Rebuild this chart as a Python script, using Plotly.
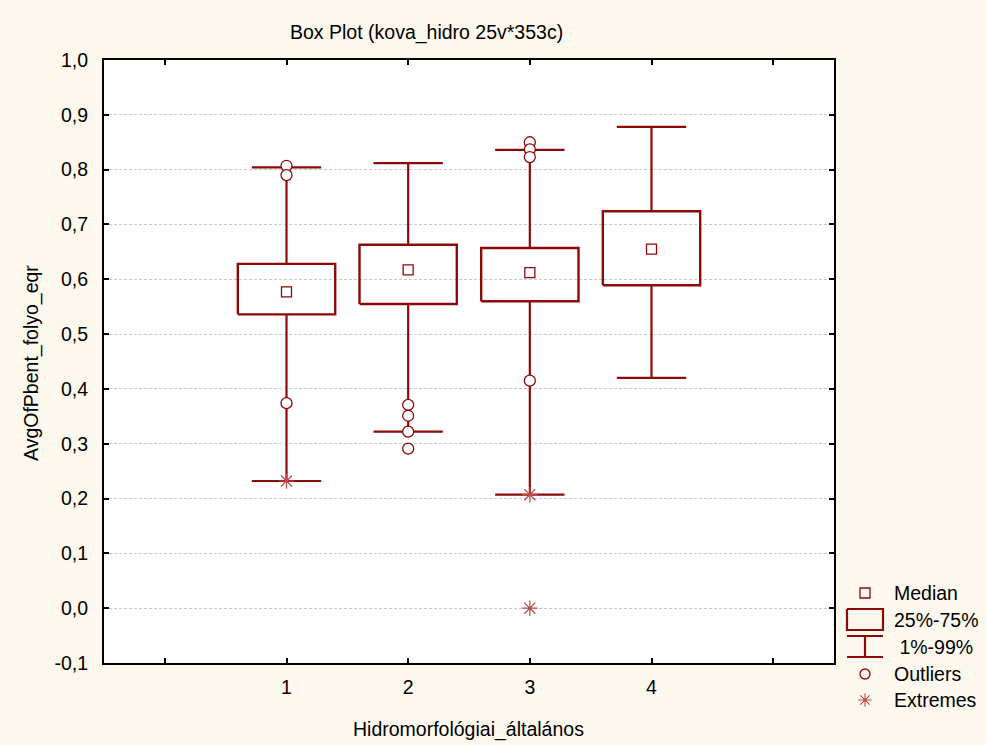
import plotly.graph_objects as go

# ---- data ----------------------------------------------------------------
groups = [1, 2, 3, 4]
group_labels = ["1", "2", "3", "4"]
q1 = [0.536, 0.555, 0.560, 0.589]
median = [0.577, 0.617, 0.612, 0.655]
q3 = [0.628, 0.663, 0.657, 0.724]
p1 = [0.232, 0.322, 0.207, 0.420]
p99 = [0.804, 0.812, 0.836, 0.878]

outlier_group = [1, 1, 1, 2, 2, 2, 2, 3, 3, 3, 3]
outlier_value = [0.807, 0.790, 0.374, 0.371, 0.351, 0.322, 0.291, 0.850, 0.837, 0.823, 0.415]

extreme_group = [1, 3, 3]
extreme_value = [0.232, 0.207, 0.0]

y_ticks = [-0.1, 0.0, 0.1, 0.2, 0.3, 0.4, 0.5, 0.6, 0.7, 0.8, 0.9, 1.0]
y_tick_text = ["-0,1", "0,0", "0,1", "0,2", "0,3", "0,4", "0,5", "0,6", "0,7", "0,8", "0,9", "1,0"]

legend_labels = ["Median", "25%-75%", " 1%-99%", "Outliers", "Extremes"]

# ---- styling ----------------------------------------------------------------
W, H = 987, 745
RED = "#8b0a0a"
STAR = "#c04848"
BG = "#fdf8ee"
FONT = "Liberation Sans, Arial, sans-serif"
FS = 19.5
BOX_HALF = 0.40
CAP_HALF = 0.285

# plot area in pixels
PL, PR, PT, PB = 104, 834, 60, 663


def px(x):
    return x / W


def py(y):
    return 1 - y / H


fig = go.Figure()

# boxes (25%-75%)
bx, by = [], []
for g, a, b in zip(groups, q1, q3):
    bx += [g - BOX_HALF, g + BOX_HALF, g + BOX_HALF, g - BOX_HALF, g - BOX_HALF, None]
    by += [a, a, b, b, a, None]
fig.add_trace(go.Scatter(x=bx, y=by, mode="lines", line=dict(color=RED, width=2.4),
                         hoverinfo="skip", showlegend=False))

# whiskers with caps (1%-99%)
wx, wy = [], []
for g, lo, a, b, hi in zip(groups, p1, q1, q3, p99):
    wx += [g, g, None, g, g, None,
           g - CAP_HALF, g + CAP_HALF, None, g - CAP_HALF, g + CAP_HALF, None]
    wy += [b, hi, None, a, lo, None, hi, hi, None, lo, lo, None]
fig.add_trace(go.Scatter(x=wx, y=wy, mode="lines", line=dict(color=RED, width=2.2),
                         hoverinfo="skip", showlegend=False))

# medians
fig.add_trace(go.Scatter(x=groups, y=median, mode="markers",
                         marker=dict(symbol="square-open", size=10, color=RED,
                                     line=dict(width=1.3, color=RED)),
                         showlegend=False))

# outliers
fig.add_trace(go.Scatter(x=outlier_group, y=outlier_value, mode="markers",
                         marker=dict(symbol="circle", size=11, color="white",
                                     line=dict(width=1.3, color=RED)),
                         showlegend=False))

# extremes
fig.add_trace(go.Scatter(x=extreme_group, y=extreme_value, mode="markers",
                         marker=dict(symbol="asterisk-open", size=13, color=STAR,
                                     line=dict(width=1.2, color=STAR)),
                         showlegend=False))

# ---- legend drawn in its own small pixel-space subplot ----------------------
LX0, LX1, LY0, LY1 = 838, 987, 575, 745
cx = 865
rows_y = [593, 620, 647, 674, 700]

# median symbol
fig.add_trace(go.Scatter(x=[cx], y=[rows_y[0]], mode="markers", xaxis="x2", yaxis="y2",
                         marker=dict(symbol="square-open", size=10, color=RED,
                                     line=dict(width=1.3, color=RED)),
                         showlegend=False, hoverinfo="skip"))
# box symbol
fig.add_trace(go.Scatter(x=[847, 883, 883, 847, 847], y=[609, 609, 630, 630, 609],
                         mode="lines", xaxis="x2", yaxis="y2",
                         line=dict(color=RED, width=2.2), showlegend=False, hoverinfo="skip"))
# whisker symbol
fig.add_trace(go.Scatter(x=[847, 883, None, cx, cx, None, 847, 883],
                         y=[636, 636, None, 636, 657, None, 657, 657],
                         mode="lines", xaxis="x2", yaxis="y2",
                         line=dict(color=RED, width=2.2), showlegend=False, hoverinfo="skip"))
# outlier symbol
fig.add_trace(go.Scatter(x=[cx], y=[rows_y[3]], mode="markers", xaxis="x2", yaxis="y2",
                         marker=dict(symbol="circle", size=10, color=BG,
                                     line=dict(width=1.3, color=RED)),
                         showlegend=False, hoverinfo="skip"))
# extreme symbol
fig.add_trace(go.Scatter(x=[cx], y=[rows_y[4]], mode="markers", xaxis="x2", yaxis="y2",
                         marker=dict(symbol="asterisk-open", size=11, color=STAR,
                                     line=dict(width=1.1, color=STAR)),
                         showlegend=False, hoverinfo="skip"))

annotations = []
for lab, yy in zip(legend_labels, rows_y):
    annotations.append(dict(x=892, y=yy, xref="x2", yref="y2", text=lab, showarrow=False,
                            xanchor="left", yanchor="middle",
                            font=dict(family=FONT, size=FS, color="black")))

# title and axis titles
annotations.append(dict(x=px(426), y=py(33), xref="paper", yref="paper",
                        text="Box Plot (kova_hidro 25v*353c)", showarrow=False,
                        xanchor="center", yanchor="middle",
                        font=dict(family=FONT, size=FS, color="black")))
annotations.append(dict(x=px(468), y=py(729), xref="paper", yref="paper",
                        text="Hidromorfológiai_általános", showarrow=False,
                        xanchor="center", yanchor="middle",
                        font=dict(family=FONT, size=FS, color="black")))
annotations.append(dict(x=px(31), y=py(363), xref="paper", yref="paper",
                        text="AvgOfPbent_folyo_eqr", showarrow=False, textangle=-90,
                        xanchor="center", yanchor="middle",
                        font=dict(family=FONT, size=FS, color="black")))

shapes = [
    # white plotting area
    dict(type="rect", xref="x domain", yref="y domain", x0=0, x1=1, y0=0, y1=1,
         fillcolor="white", line=dict(width=0), layer="below"),
]

fig.update_layout(
    width=W, height=H,
    margin=dict(l=0, r=0, t=0, b=0),
    paper_bgcolor=BG, plot_bgcolor=BG,
    font=dict(family=FONT, size=FS, color="black"),
    showlegend=False,
    annotations=annotations,
    shapes=shapes,
    xaxis=dict(
        domain=[px(PL), px(PR)], range=[-0.5, 5.5],
        tickvals=[0, 1, 2, 3, 4, 5], ticktext=[""] + group_labels + [""],
        ticks="inside", ticklen=5, tickwidth=1.5, tickcolor="black",
        showline=True, linecolor="black", linewidth=2, mirror="ticks",
        showgrid=False, zeroline=False, automargin=False, fixedrange=True,
        tickfont=dict(family=FONT, size=FS), ticklabelstandoff=6,
    ),
    yaxis=dict(
        domain=[py(PB), py(PT)], range=[-0.1, 1.0],
        tickvals=y_ticks, ticktext=y_tick_text,
        ticks="inside", ticklen=5, tickwidth=1.5, tickcolor="black",
        showline=True, linecolor="black", linewidth=2, mirror="ticks",
        showgrid=True, gridcolor="#c8c8c8", gridwidth=1, griddash="3px,2px",
        zeroline=False, automargin=False, fixedrange=True,
        tickfont=dict(family=FONT, size=FS), ticklabelstandoff=10,
    ),
    xaxis2=dict(domain=[px(LX0), px(LX1)], range=[LX0, LX1], anchor="y2",
                visible=False, fixedrange=True),
    yaxis2=dict(domain=[py(LY1), py(LY0)], range=[LY1, LY0], anchor="x2",
                visible=False, fixedrange=True),
)

fig.write_html("out.html")
